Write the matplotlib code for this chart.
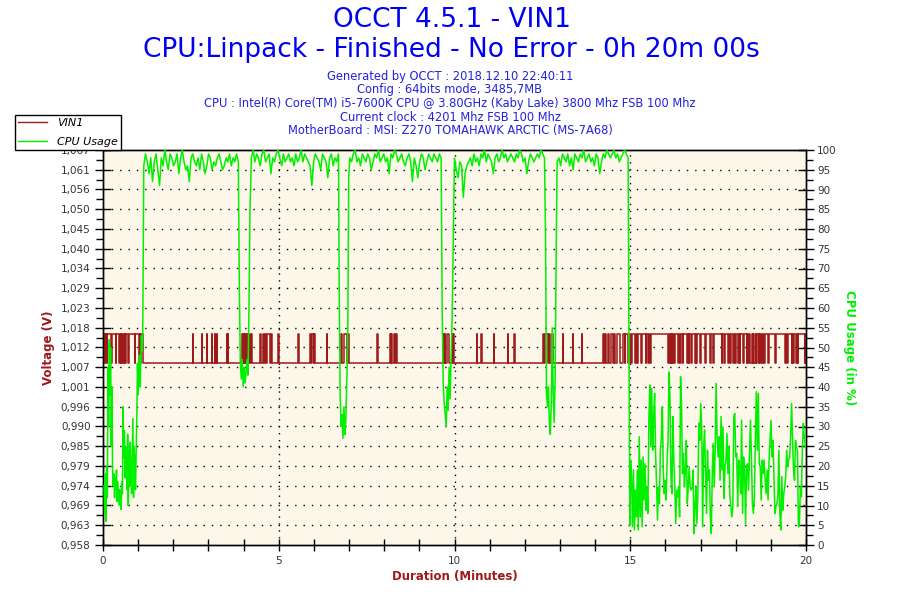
import numpy as np
import matplotlib
matplotlib.use('Agg')
import matplotlib.pyplot as plt
from matplotlib.lines import Line2D

# ---- header texts
title_1 = 'OCCT 4.5.1 - VIN1'
title_2 = 'CPU:Linpack - Finished - No Error - 0h 20m 00s'
info_lines = ['Generated by OCCT : 2018.12.10 22:40:11',
              'Config : 64bits mode, 3485,7MB',
              'CPU : Intel(R) Core(TM) i5-7600K CPU @ 3.80GHz (Kaby Lake) 3800 Mhz FSB 100 Mhz',
              'Current clock : 4201 Mhz FSB 100 Mhz',
              'MotherBoard : MSI: Z270 TOMAHAWK ARCTIC (MS-7A68)']

# ---- axes ranges / labels
volt_min, volt_max = 0.9576, 1.0668
volt_tick_labels = ['0,958', '0,963', '0,969', '0,974', '0,979', '0,985', '0,990',
                    '0,996', '1,001', '1,007', '1,012', '1,018', '1,023', '1,029',
                    '1,034', '1,040', '1,045', '1,050', '1,056', '1,061', '1,067']
cpu_ticks = list(range(0, 101, 5))
minute_ticks = [0, 5, 10, 15, 20]

# ---- VIN1 (two sensor levels)
vin_low = 1.008
vin_high = 1.016
vin_start, vin_end = 0.03, 19.99
vin_high_spans = [(0.03, 0.05), (0.07, 0.10), (0.12, 0.24), (0.26, 0.36), (0.38, 0.46),
                  (0.48, 0.50), (0.52, 0.55), (0.57, 0.60), (0.62, 0.63), (0.645, 0.65),
                  (0.66, 0.71), (0.73, 0.90), (0.92, 1.03), (1.05, 1.06), (1.08, 1.15),
                  (2.55, 2.57), (2.81, 2.83), (2.95, 2.97), (3.09, 3.11), (3.18, 3.20),
                  (3.23, 3.25), (3.52, 3.54), (3.55, 3.57),
                  (3.95, 3.97), (3.99, 4.02), (4.04, 4.05), (4.07, 4.10), (4.12, 4.13),
                  (4.15, 4.18), (4.22, 4.24),
                  (4.47, 4.49), (4.55, 4.57), (4.60, 4.64), (4.67, 4.75), (4.77, 4.80),
                  (4.98, 5.00), (5.55, 5.57), (5.89, 5.91), (5.96, 5.99), (6.01, 6.03),
                  (6.36, 6.38), (6.77, 6.80), (6.85, 6.95), (6.97, 7.00), (7.79, 7.81),
                  (8.17, 8.19), (8.20, 8.22), (8.29, 8.31), (8.34, 8.36),
                  (9.67, 9.69), (9.72, 9.74), (9.78, 9.85), (9.93, 9.95), (9.97, 9.99),
                  (10.63, 10.65), (10.75, 10.77), (11.11, 11.13), (11.51, 11.53),
                  (11.70, 11.72), (12.52, 12.55), (12.58, 12.66), (12.69, 12.72),
                  (12.76, 12.79), (13.08, 13.10), (13.36, 13.38), (13.62, 13.64),
                  (14.22, 14.26), (14.28, 14.32), (14.38, 14.40), (14.44, 14.52),
                  (14.55, 14.58), (14.62, 14.72), (14.78, 14.84), (14.86, 19.99)]
vin_low_dips = [(14.95, 14.98), (15.02, 15.04), (15.14, 15.17), (15.20, 15.23), (15.32, 15.34),
                (15.44, 15.46), (15.50, 15.53), (15.57, 15.59), (16.08, 16.10), (16.12, 16.15),
                (16.17, 16.18), (16.20, 16.23), (16.25, 16.27), (16.37, 16.39), (16.42, 16.45),
                (16.49, 16.51), (16.61, 16.63), (16.66, 16.68), (16.72, 16.75), (16.84, 16.86),
                (16.88, 16.89), (16.98, 17.00), (17.13, 17.15), (17.27, 17.29), (17.36, 17.38),
                (17.60, 17.62), (17.66, 17.70), (17.79, 17.81), (17.85, 17.88), (17.92, 17.94),
                (17.98, 18.02), (18.06, 18.08), (18.11, 18.13), (18.22, 18.24), (18.31, 18.33),
                (18.36, 18.39), (18.42, 18.46), (18.48, 18.50), (18.53, 18.57), (18.58, 18.60),
                (18.65, 18.67), (18.70, 18.72), (18.75, 18.78), (18.81, 18.83), (18.93, 18.95),
                (19.12, 19.14), (19.40, 19.42), (19.47, 19.50), (19.59, 19.61), (19.64, 19.67),
                (19.72, 19.74), (19.76, 19.78), (19.96, 19.98)]

# ---- CPU usage (%), read in evenly spaced runs
cpu_start = [15, 8, 18, 6, 20, 12, 45, 30, 52, 38, 50, 25, 40, 19, 15, 18, 12, 17, 14, 19,
             11, 16, 13, 10, 14, 12, 9, 16, 13, 35, 22, 29, 17, 25, 20, 14, 28, 10, 24, 15,
             26, 18, 13, 22, 32, 12, 25, 20, 14, 23, 33, 46, 38, 44, 48, 40, 47, 53, 49, 53]
cpu_plateau_1 = [96, 99, 97, 94, 98, 92, 97, 99, 95, 91, 98, 96, 100, 97, 95, 99, 98, 96, 97, 99,
                 94, 98, 100, 97, 95, 96, 92, 98, 99, 97, 96, 98, 95, 99, 97, 94, 96, 99, 98, 95,
                 97, 96, 98, 99, 97, 95, 96, 98, 97, 99, 96, 98, 97, 99, 97]
cpu_dip_1 = [64, 46, 42, 47, 40, 45, 41, 44, 47, 43, 60, 84]
cpu_plateau_2 = [98, 100, 97, 99, 98, 96, 99, 100, 97, 98, 99, 94, 98, 97, 99, 100, 98, 96, 99, 97,
                 98, 99, 97, 98, 96, 99, 97, 98, 100, 97, 99, 98, 97, 96, 91, 97, 99, 98, 97, 95,
                 99, 98, 97, 93, 98, 99, 96, 98, 97, 99]
cpu_dip_2 = [65, 38, 30, 33, 27, 35, 28, 32, 41, 51, 93]
cpu_plateau_3 = [98, 97, 99, 100, 97, 98, 96, 99, 98, 97, 99, 98, 95, 97, 99, 98, 100, 97, 98, 99,
                 97, 98, 94, 99, 98, 100, 99, 97, 98, 99, 97, 96, 98, 99, 97, 92, 98, 96, 93, 97,
                 99, 98, 95, 97, 99, 98, 97, 99, 98, 97, 99, 98]
cpu_dip_3 = [59, 41, 36, 33, 30, 40, 34, 45, 37, 48, 57, 74]
cpu_plateau_4 = [98, 95, 93, 97, 96, 88, 94, 96, 97, 98, 96, 99, 97, 98, 96, 99, 98, 100, 97, 99,
                 98, 97, 94, 98, 99, 97, 98, 100, 98, 99, 97, 98, 99, 98, 97, 99, 98, 100, 99, 97,
                 98, 94, 97, 99, 98, 97, 98, 99, 98, 100, 99, 98]
cpu_dip_4 = [78, 38, 35, 40, 31, 28, 36, 55, 38, 31, 42, 71]
cpu_plateau_5 = [97, 98, 96, 99, 98, 97, 99, 96, 98, 95, 99, 98, 97, 99, 98, 100, 97, 98, 99, 97,
                 98, 96, 99, 98, 94, 97, 99, 98, 100, 99, 98, 99, 100, 98, 99, 97, 98, 99, 100, 99, 98]
cpu_drop = [57, 5]
cpu_tail_a = [21.5, 17.3, 4.6, 19.0, 3.8, 13.9, 7.1, 19.0, 3.8, 27.4, 7.1, 21.5, 4.6, 22.3, 11.4,
              20.6, 8.8, 14.7, 8.0, 31.6, 40.5, 24.9, 39.6, 24.0, 32.5, 38.4, 23.2, 15.6, 6.3,
              14.7, 10.5, 24.0, 27.4, 35.0, 19.0, 13.0, 16.4, 11.4, 21.5, 26.5, 43.8, 37.1, 17.3,
              13.0, 32.5, 21.5, 14.7, 5.4, 13.9, 12.2, 14.7, 7.1, 42.6, 35.8, 18.1, 23.2, 14.7,
              19.0, 26.5, 10.5, 14.7, 19.8, 14.7, 13.9, 14.7, 19.0, 2.9, 9.7, 14.7, 5.4, 12.2,
              30.8, 26.5, 35.8, 29.9, 4.6, 24.9, 29.1, 19.0, 8.0, 24.0, 16.4, 19.0, 7.1, 2.9,
              18.1, 25.7, 14.7, 24.0, 40.9, 27.4]
cpu_tail_b = [22.3, 27.4, 16.4, 32.5, 19.0, 29.9, 11.8, 19.8, 21.5, 28.2, 18.1, 24.9, 12.6, 9.7,
              7.1, 9.7, 32.5, 33.3, 22.3, 23.2, 9.7, 21.5, 19.8, 13.0, 31.6, 8.0, 22.3, 19.0, 5.4,
              19.8, 20.6, 13.9, 23.2, 31.6, 22.3, 10.5, 8.0, 12.2, 26.5, 38.8, 24.0, 38.4, 20.6,
              19.8, 11.4, 21.5, 18.1, 21.5, 16.4, 13.0, 19.0, 11.4, 21.5, 26.5, 31.6, 22.3, 26.5,
              17.3, 8.0, 9.7, 10.5, 12.2, 24.0, 8.0, 3.8, 17.3, 8.8, 13.0, 14.7, 17.3, 24.0, 19.8,
              21.5, 22.3, 27.4, 35.8, 26.5, 19.0, 16.4, 26.5, 24.9, 24.0, 4.6, 5.4, 14.7, 12.2,
              24.0, 30.8, 27.4, 24.9]
cpu_runs = [(0.03, 1.13, cpu_start), (1.16, 3.85, cpu_plateau_1), (3.88, 4.18, cpu_dip_1),
            (4.22, 6.70, cpu_plateau_2), (6.72, 6.99, cpu_dip_2), (7.02, 9.62, cpu_plateau_3),
            (9.65, 9.96, cpu_dip_3), (10.00, 12.56, cpu_plateau_4), (12.59, 12.89, cpu_dip_4),
            (12.92, 14.94, cpu_plateau_5), (14.96, 14.99, cpu_drop), (15.01, 17.47, cpu_tail_a),
            (17.50, 19.98, cpu_tail_b)]

# ---- build series
edges = sorted({vin_start, vin_end} | {e for s in vin_high_spans + vin_low_dips for e in s})
def vin_level(t):
    hi = any(a <= t < b for a, b in vin_high_spans)
    lo = any(a <= t < b for a, b in vin_low_dips)
    return vin_high if hi and not lo else vin_low
vin_t = np.array(edges)
vin_v = np.array([vin_level(t) for t in edges])

cpu_t = np.concatenate([np.linspace(a, b, len(v)) for a, b, v in cpu_runs])
cpu_v = np.concatenate([np.array(v, dtype=float) for a, b, v in cpu_runs])

# ---- colours
red = '#9E1A1A'
green = '#00F000'
blue = '#0000F0'
bg = '#FDF7EA'

fig = plt.figure(figsize=(9, 6), dpi=100)
ax = fig.add_axes([103 / 900, 55 / 600, 703 / 900, 395 / 600])
ax.set_facecolor(bg)
ax2 = ax.twinx()

ax.plot(vin_t, vin_v, drawstyle='steps-post', color=red, lw=1.1, zorder=3)
ax2.plot(cpu_t, cpu_v, color=green, lw=1.1, zorder=3)

ax.set_xlim(0, 20)
ax.set_ylim(volt_min, volt_max)
ax2.set_ylim(0, 100)

vt = np.linspace(volt_min, volt_max, len(volt_tick_labels))
ax.set_yticks(vt)
ax.set_yticklabels(volt_tick_labels)
ax.set_yticks((vt[:-1] + vt[1:]) / 2, minor=True)
ax.set_xticks(minute_ticks)
ax.set_xticks(range(0, 21), minor=True)
ax2.set_yticks(cpu_ticks)
ax2.set_yticks(np.arange(2.5, 100, 5), minor=True)

for a in (ax, ax2):
    a.tick_params(which='major', direction='inout', length=12, width=1, labelsize=7.5,
                  labelcolor='#333333', pad=2)
    a.tick_params(which='minor', direction='out', length=5, width=1)
    for sp in a.spines.values():
        sp.set_linewidth(1)
ax.tick_params(axis='x', which='major', length=8, pad=4)
ax.tick_params(axis='x', which='minor', direction='inout', length=8)
ax.tick_params(axis='y', which='major', pad=3)

# dotted grid
for v in vt[1:-1]:
    ax.axhline(v, color='black', lw=1, ls=(0, (1, 5)), zorder=1)
for m in minute_ticks[1:-1]:
    ax.axvline(m, color='black', lw=1, ls=(0, (1, 4)), zorder=1)

ax.set_ylabel('Voltage (V)', color=red, fontsize=8.5, fontweight='bold', labelpad=4)
ax2.set_ylabel('CPU Usage (in %)', color=green, fontsize=8.5, fontweight='bold',
               rotation=270, labelpad=14)
ax.set_xlabel('Duration (Minutes)', color=red, fontsize=8.5, fontweight='bold', labelpad=3)

fig.text(0.502, 0.966, title_1, ha='center', va='center', fontsize=19, color=blue)
fig.text(0.502, 0.916, title_2, ha='center', va='center', fontsize=19, color=blue)
for i, line in enumerate(info_lines):
    fig.text(0.5, 0.873 - i * 0.0228, line, ha='center', va='center', fontsize=8.3, color='#2222DD')

handles = [Line2D([], [], color=red, lw=1), Line2D([], [], color=green, lw=1)]
leg = fig.legend(handles, ['VIN1', 'CPU Usage'], loc='upper left',
                 bbox_to_anchor=(15 / 900, 1 - 115 / 600), fancybox=False, framealpha=1,
                 edgecolor='black', prop={'size': 8, 'style': 'italic'}, handlelength=2.6,
                 borderpad=0.3, labelspacing=0.75, handletextpad=0.9, borderaxespad=0)
leg.get_frame().set_linewidth(1)

fig.savefig('out.png', dpi=100)
